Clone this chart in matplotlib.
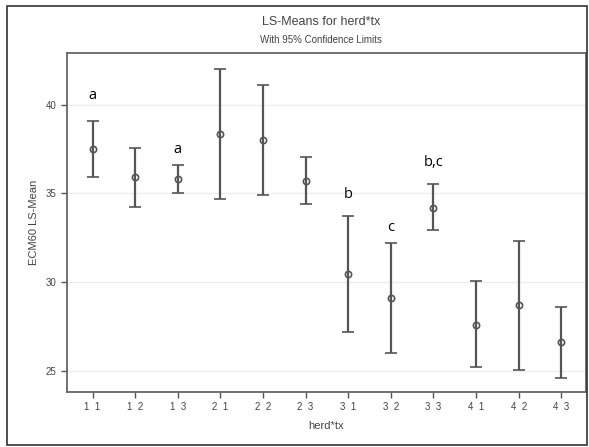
import numpy as np
import matplotlib
matplotlib.use("Agg")
import matplotlib.pyplot as plt
from matplotlib.patches import Rectangle

# LS-means and 95% limits
groups = ["1  1", "1  2", "1  3", "2  1", "2  2", "2  3", "3  1", "3  2", "3  3", "4  1", "4  2", "4  3"]
means = [37.49, 35.91, 35.82, 38.37, 38.01, 35.73, 30.48, 29.10, 34.20, 27.60, 28.71, 26.62]
upper = [39.10, 37.54, 36.60, 42.01, 41.09, 37.07, 33.74, 32.20, 35.52, 30.07, 32.33, 28.63]
lower = [35.91, 34.26, 35.05, 34.67, 34.93, 34.43, 27.18, 26.04, 32.94, 25.21, 25.04, 24.63]

# significance letters: (group index, y, text)
letter_idx = [0, 2, 6, 7, 8]
letter_y = [40.5, 37.5, 34.97, 33.06, 36.72]
letter_txt = ["a", "a", "b", "c", "b,c"]

plt.rcParams['font.family'] = ['Liberation Sans', 'DejaVu Sans']

fig = plt.figure(figsize=(5.89, 4.47), dpi=100)
ax = fig.add_axes([67/589, 1 - 392/447, (586-67)/589, (392-52.7)/447])

x = np.arange(len(groups))
means = np.array(means)
yerr = [means - np.array(lower), np.array(upper) - means]
ax.errorbar(x, means, yerr=yerr, fmt='o', color='#555555', ecolor='#555555',
            elinewidth=1.6, capsize=4, capthick=1.4, markersize=4.5,
            markerfacecolor='none', markeredgewidth=1.2, zorder=3)

for i, yy, t in zip(letter_idx, letter_y, letter_txt):
    ax.text(x[i], yy, t, ha='center', va='center', fontsize=10.5,
            family=['Open Sans', 'DejaVu Sans'], color='black')

ax.set_xlim(-0.6, 11.58)
ax.set_ylim(23.82, 42.93)
ax.set_xticks(x)
ax.set_xticklabels(groups)
ax.set_yticks([25, 30, 35, 40])
ax.yaxis.grid(True, color='#eeeeee', linewidth=1)
ax.set_axisbelow(True)
ax.tick_params(colors='#555555', labelsize=7, length=4, width=1, labelcolor='#444444')
for s in ax.spines.values():
    s.set_color('#666666')
    s.set_linewidth(1.3)

ax.set_xlabel('herd*tx', fontsize=8, color='#444444', labelpad=6)
ax.set_ylabel('ECM60 LS-Mean', fontsize=8, color='#444444', labelpad=5)

fig.text(0.545, 1 - 22/447, 'LS-Means for herd*tx', ha='center', va='center', fontsize=9, color='#444444')
fig.text(0.545, 1 - 40/447, 'With 95% Confidence Limits', ha='center', va='center', fontsize=7, color='#444444')

# outer border
fig.patches.append(Rectangle((7/589, 1 - 445/447), 580/589, 439/447, transform=fig.transFigure,
                             fill=False, edgecolor='#333333', linewidth=1.2))

fig.savefig('out.png', dpi=100)
